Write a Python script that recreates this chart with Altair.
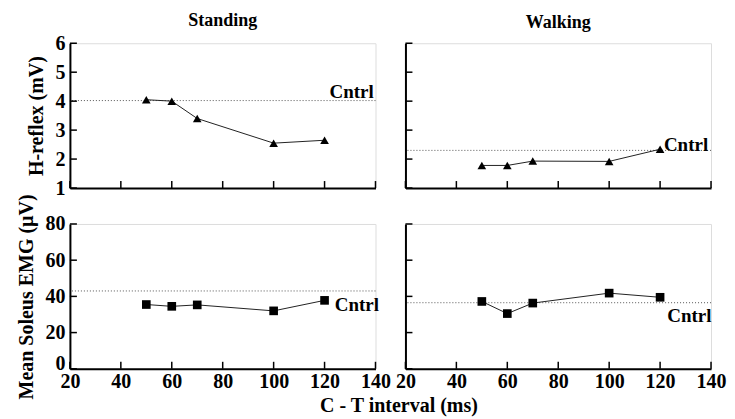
import altair as alt
import pandas as pd

# ---- data ----
ct_ms = [50, 60, 70, 100, 120]
h_standing = [4.05, 4.0, 3.4, 2.55, 2.65]
h_walking = [1.78, 1.78, 1.93, 1.92, 2.34]
emg_standing = [35.5, 34.5, 35.3, 32.0, 37.8]
emg_walking = [37.2, 30.5, 36.3, 41.8, 39.5]
cntrl_h_standing = 4.02
cntrl_h_walking = 2.3
cntrl_emg_standing = 43.0
cntrl_emg_walking = 36.5
x_ticks = [20, 40, 60, 80, 100, 120, 140]
h_ticks = [1, 2, 3, 4, 5, 6]
emg_ticks = [0, 20, 40, 60, 80]

FONT = "Liberation Serif"
W, H = 306, 145
GAP = 30
TICK = 7


def panel(values, cntrl, yticks, shape, show_x_labels, show_y_labels, ytitle,
          cntrl_x, cntrl_align, cntrl_baseline, cntrl_dy, title=None, title_offset=10,
          xtitle=None):
    xscale = alt.Scale(domain=[x_ticks[0], x_ticks[-1]], nice=False, zero=False)
    yscale = alt.Scale(domain=[yticks[0], yticks[-1]], nice=False, zero=False)
    xaxis_kw = dict(values=x_ticks, ticks=False, labels=show_x_labels, grid=False,
                    domainColor="black", domainWidth=2, labelFont=FONT, labelFontSize=20,
                    labelFontWeight="bold", labelColor="black", labelPadding=3,
                    labelFlush=False)
    if xtitle:
        xaxis_kw.update(titleFont=FONT, titleFontSize=20, titleFontWeight="bold",
                        titleColor="black", titleX=W + GAP / 2 + 8, titlePadding=4,
                        titleAlign="center")
    xaxis = alt.Axis(**xaxis_kw)
    yaxis = alt.Axis(values=yticks, ticks=False, labels=show_y_labels, grid=False,
                     domainColor="black", domainWidth=2, labelFont=FONT, labelFontSize=20,
                     labelFontWeight="bold", labelColor="black", labelPadding=5,
                     labelOffset={"condition": {"test": "datum.value == 0", "value": -5},
                                  "value": 0},
                     titleFont=FONT, titleFontSize=20, titleFontWeight="bold",
                     titleColor="black", titlePadding=8)

    df = pd.DataFrame({"ct": ct_ms, "v": values})
    X = lambda f: alt.X(f, scale=xscale, axis=xaxis, title=xtitle)
    Y = lambda f: alt.Y(f, scale=yscale, axis=yaxis, title=ytitle)

    ctrl = alt.Chart(pd.DataFrame({"c": [cntrl]})).mark_rule(
        color="#555555", strokeDash=[1, 2], strokeWidth=1
    ).encode(y=Y("c:Q"))

    line = alt.Chart(df).mark_line(color="#222222", strokeWidth=1).encode(
        x=X("ct:Q"), y=Y("v:Q"))
    pts = alt.Chart(df).mark_point(shape=shape, filled=True, size=75, color="black",
                                   opacity=1).encode(x=X("ct:Q"), y=Y("v:Q"))

    xt = alt.Chart(pd.DataFrame({"t": x_ticks})).mark_rule(color="black", strokeWidth=1.5).encode(
        x=X("t:Q"), y=alt.value(H), y2=alt.value(H - TICK))
    yt = alt.Chart(pd.DataFrame({"t": yticks})).mark_rule(color="black", strokeWidth=1.5).encode(
        y=Y("t:Q"), x=alt.value(0), x2=alt.value(TICK))

    lab = alt.Chart(pd.DataFrame({"x": [cntrl_x], "y": [cntrl], "label": ["Cntrl"]})).mark_text(
        align=cntrl_align, baseline=cntrl_baseline, dy=cntrl_dy, font=FONT, fontSize=19,
        fontWeight="bold", color="black"
    ).encode(x=X("x:Q"), y=Y("y:Q"), text="label:N")

    props = dict(width=W, height=H)
    if title:
        props["title"] = alt.TitleParams(title, font=FONT, fontSize=18, fontWeight="bold",
                                         color="black", anchor="middle", frame="group",
                                         offset=title_offset)
    return alt.layer(ctrl, line, pts, xt, yt, lab).properties(**props)


tl = panel(h_standing, cntrl_h_standing, h_ticks, "triangle-up", False, True, "H-reflex (mV)",
           130.6, "center", "alphabetic", -3, title="Standing", title_offset=3)
tr = panel(h_walking, cntrl_h_walking, h_ticks, "triangle-up", False, False, None,
           121.5, "left", "alphabetic", 1, title="Walking", title_offset=11)
bl = panel(emg_standing, cntrl_emg_standing, emg_ticks, "square", True, True,
           "Mean Soleus EMG (µV)", 124, "left", "middle", 14, xtitle="C - T interval (ms)")
br = panel(emg_walking, cntrl_emg_walking, emg_ticks, "square", True, False, None,
           131.5, "center", "top", 4)

chart = alt.concat(
    tl, tr, bl, br, columns=2, spacing={"row": 36, "column": GAP}, bounds="flush",
).configure_view(stroke=None).configure(padding={"left": 8, "top": 3, "right": 0, "bottom": 0},
                                        background="white")

chart.save("out.html", embed_options={"renderer": "svg", "actions": False})
